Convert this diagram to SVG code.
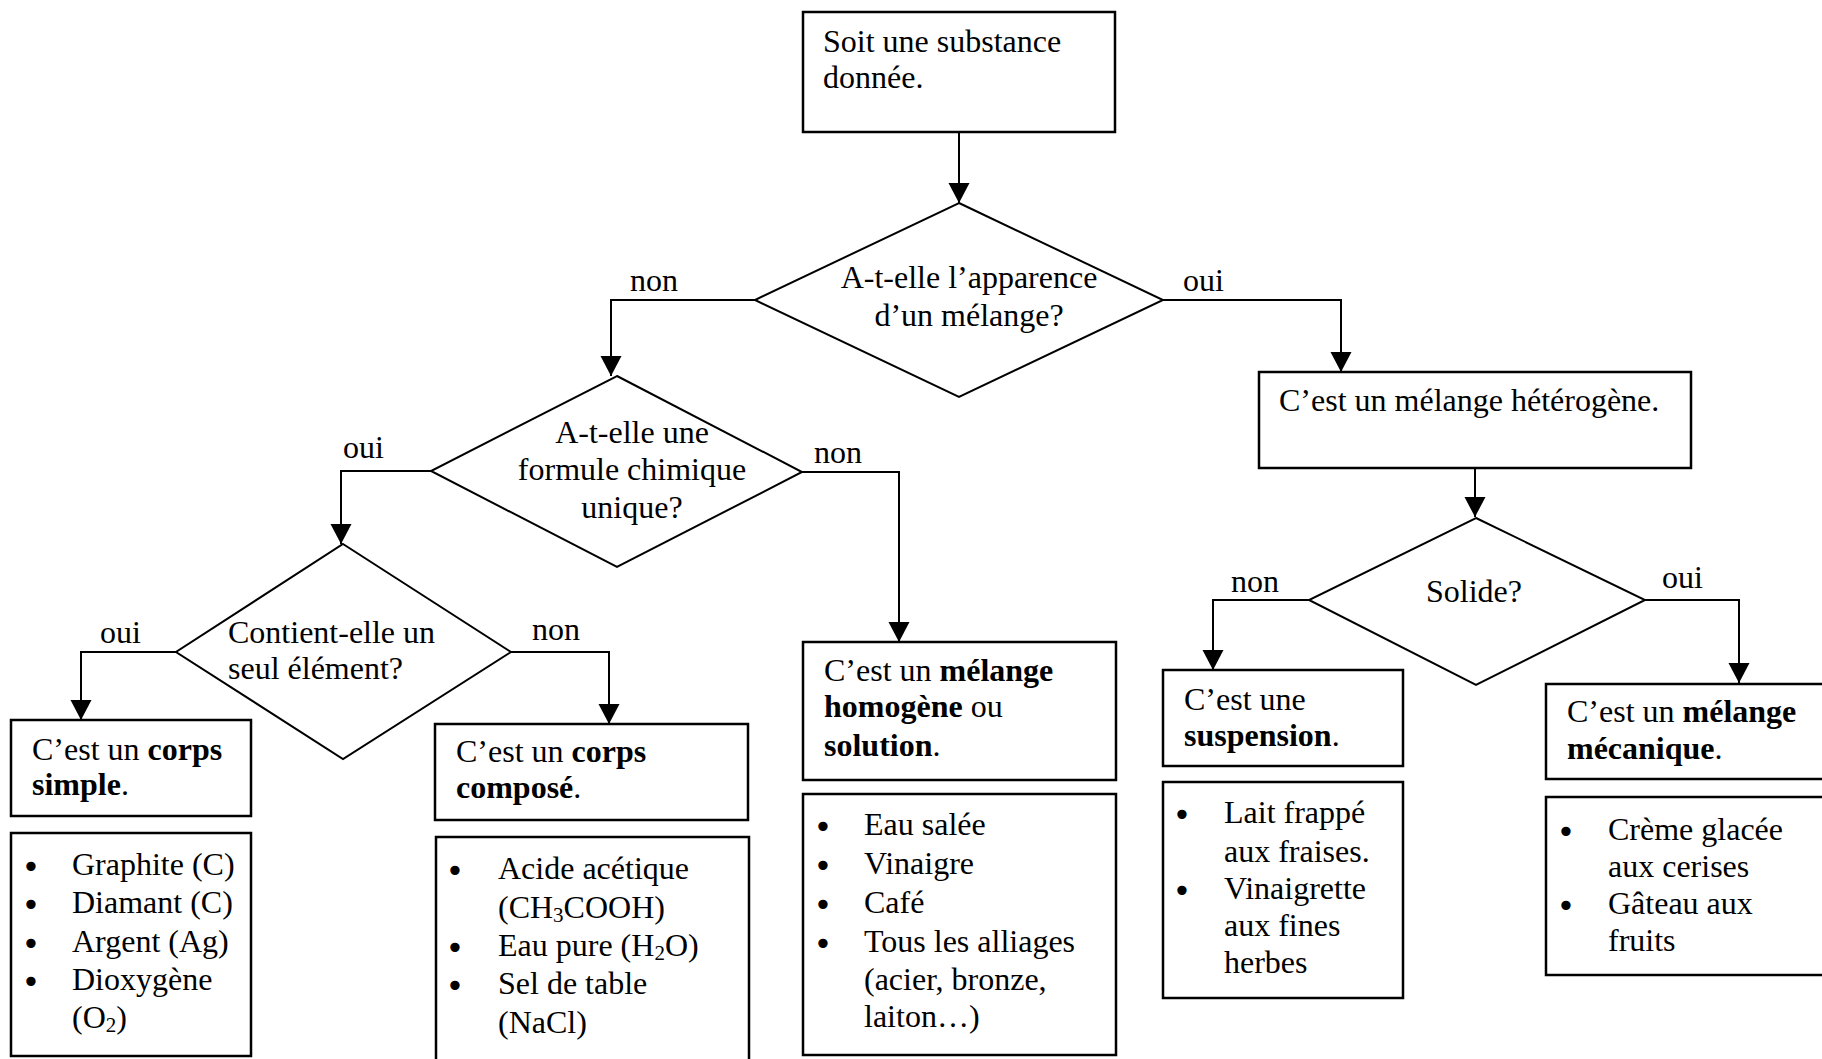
<svg xmlns="http://www.w3.org/2000/svg" width="1822" height="1059" viewBox="0 0 1822 1059">
<style>
  .t{font-family:"Liberation Serif","Times New Roman",serif;font-size:32px;fill:#000}
  .b{font-weight:bold}
  .c{text-anchor:middle}
  .bu{font-family:"DejaVu Sans",sans-serif;font-size:32px;fill:#000;text-anchor:middle}
  .box{fill:#fff;stroke:#000;stroke-width:2.5}
  .dia{fill:#fff;stroke:#000;stroke-width:2}
  .ln{fill:none;stroke:#000;stroke-width:2}
  .sub{font-size:21px}
</style>
<defs>
  <marker id="arr" markerUnits="userSpaceOnUse" markerWidth="22" markerHeight="22" refX="20" refY="10.5" orient="auto" viewBox="0 0 22 22">
    <path d="M0,0 L20,10.5 L0,21 Z" fill="#000"/>
  </marker>
</defs>
<rect width="1822" height="1059" fill="#fff"/>

<g id="connectors">
  <path class="ln" d="M959,132 V203" marker-end="url(#arr)"/>
  <path class="ln" d="M755,300 H611 V376" marker-end="url(#arr)"/>
  <path class="ln" d="M1163,300 H1341 V372" marker-end="url(#arr)"/>
  <path class="ln" d="M431,471 H341 V544" marker-end="url(#arr)"/>
  <path class="ln" d="M802,472 H899 V642" marker-end="url(#arr)"/>
  <path class="ln" d="M176,652 H81 V720" marker-end="url(#arr)"/>
  <path class="ln" d="M511,652 H609 V724" marker-end="url(#arr)"/>
  <path class="ln" d="M1475,468 V517" marker-end="url(#arr)"/>
  <path class="ln" d="M1309,600 H1213 V670" marker-end="url(#arr)"/>
  <path class="ln" d="M1645,600 H1739 V683" marker-end="url(#arr)"/>
  <text class="t" x="630" y="291">non</text>
  <text class="t" x="1183" y="291">oui</text>
  <text class="t" x="343" y="458">oui</text>
  <text class="t" x="814" y="463">non</text>
  <text class="t" x="100" y="643">oui</text>
  <text class="t" x="532" y="640">non</text>
  <text class="t" x="1231" y="592">non</text>
  <text class="t" x="1662" y="588">oui</text>
</g>

<g id="start">
  <rect class="box" x="803" y="12" width="312" height="120"/>
  <text class="t" x="823" y="52">Soit une substance</text>
  <text class="t" x="823" y="88">donnée.</text>
</g>

<g id="q-melange">
  <polygon class="dia" points="959,203 1163,300 959,397 755,300"/>
  <text class="t c" x="969" y="288">A-t-elle l’apparence</text>
  <text class="t c" x="969" y="326">d’un mélange?</text>
</g>

<g id="q-formule">
  <polygon class="dia" points="617,376 802,472 617,567 431,471"/>
  <text class="t c" x="632" y="443">A-t-elle une</text>
  <text class="t c" x="632" y="480">formule chimique</text>
  <text class="t c" x="632" y="518">unique?</text>
</g>

<g id="q-element">
  <polygon class="dia" points="343,544 511,652 343,759 176,652"/>
  <text class="t" x="228" y="643">Contient-elle un</text>
  <text class="t" x="228" y="679">seul élément?</text>
</g>

<g id="heterogene">
  <rect class="box" x="1259" y="372" width="432" height="96"/>
  <text class="t" x="1279" y="411">C’est un mélange hétérogène.</text>
</g>

<g id="q-solide">
  <polygon class="dia" points="1476,518 1645,600 1476,685 1309,600"/>
  <text class="t c" x="1474" y="602">Solide?</text>
</g>

<g id="corps-simple">
  <rect class="box" x="11" y="720" width="240" height="96"/>
  <text class="t" x="32" y="760">C’est un <tspan class="b">corps</tspan></text>
  <text class="t" x="32" y="795"><tspan class="b">simple</tspan>.</text>
</g>

<g id="ex-simple">
  <rect class="box" x="11" y="833" width="240" height="223"/>
  <text class="bu" x="31" y="878">•</text><text class="t" x="72" y="875">Graphite (C)</text>
  <text class="bu" x="31" y="916">•</text><text class="t" x="72" y="913">Diamant (C)</text>
  <text class="bu" x="31" y="955">•</text><text class="t" x="72" y="952">Argent (Ag)</text>
  <text class="bu" x="31" y="993">•</text><text class="t" x="72" y="990">Dioxygène</text>
  <text class="t" x="72" y="1028">(O<tspan class="sub" dy="4">2</tspan><tspan dy="-4">)</tspan></text>
</g>

<g id="corps-compose">
  <rect class="box" x="435" y="724" width="313" height="96"/>
  <text class="t" x="456" y="762">C’est un <tspan class="b">corps</tspan></text>
  <text class="t" x="456" y="798"><tspan class="b">composé</tspan>.</text>
</g>

<g id="ex-compose">
  <rect class="box" x="436" y="837" width="313" height="232"/>
  <text class="bu" x="455" y="882">•</text><text class="t" x="498" y="879">Acide acétique</text>
  <text class="t" x="498" y="918">(CH<tspan class="sub" dy="4">3</tspan><tspan dy="-4">COOH)</tspan></text>
  <text class="bu" x="455" y="959">•</text><text class="t" x="498" y="956">Eau pure (H<tspan class="sub" dy="4">2</tspan><tspan dy="-4">O)</tspan></text>
  <text class="bu" x="455" y="997">•</text><text class="t" x="498" y="994">Sel de table</text>
  <text class="t" x="498" y="1033">(NaCl)</text>
</g>

<g id="homogene">
  <rect class="box" x="803" y="642" width="313" height="138"/>
  <text class="t" x="824" y="681">C’est un <tspan class="b">mélange</tspan></text>
  <text class="t" x="824" y="717"><tspan class="b">homogène</tspan> ou</text>
  <text class="t" x="824" y="756"><tspan class="b">solution</tspan>.</text>
</g>

<g id="ex-homogene">
  <rect class="box" x="803" y="794" width="313" height="261"/>
  <text class="bu" x="823" y="838">•</text><text class="t" x="864" y="835">Eau salée</text>
  <text class="bu" x="823" y="877">•</text><text class="t" x="864" y="874">Vinaigre</text>
  <text class="bu" x="823" y="916">•</text><text class="t" x="864" y="913">Café</text>
  <text class="bu" x="823" y="955">•</text><text class="t" x="864" y="952">Tous les alliages</text>
  <text class="t" x="864" y="990">(acier, bronze,</text>
  <text class="t" x="864" y="1027">laiton…)</text>
</g>

<g id="suspension">
  <rect class="box" x="1163" y="670" width="240" height="96"/>
  <text class="t" x="1184" y="710">C’est une</text>
  <text class="t" x="1184" y="746"><tspan class="b">suspension</tspan>.</text>
</g>

<g id="ex-suspension">
  <rect class="box" x="1163" y="782" width="240" height="216"/>
  <text class="bu" x="1182" y="826">•</text><text class="t" x="1224" y="823">Lait frappé</text>
  <text class="t" x="1224" y="862">aux fraises.</text>
  <text class="bu" x="1182" y="902">•</text><text class="t" x="1224" y="899">Vinaigrette</text>
  <text class="t" x="1224" y="936">aux fines</text>
  <text class="t" x="1224" y="973">herbes</text>
</g>

<g id="mecanique">
  <rect class="box" x="1546" y="684" width="280" height="95"/>
  <text class="t" x="1567" y="722">C’est un <tspan class="b">mélange</tspan></text>
  <text class="t" x="1567" y="759"><tspan class="b">mécanique</tspan>.</text>
</g>

<g id="ex-mecanique">
  <rect class="box" x="1546" y="797" width="280" height="178"/>
  <text class="bu" x="1566" y="843">•</text><text class="t" x="1608" y="840">Crème glacée</text>
  <text class="t" x="1608" y="877">aux cerises</text>
  <text class="bu" x="1566" y="917">•</text><text class="t" x="1608" y="914">Gâteau aux</text>
  <text class="t" x="1608" y="951">fruits</text>
</g>
</svg>
